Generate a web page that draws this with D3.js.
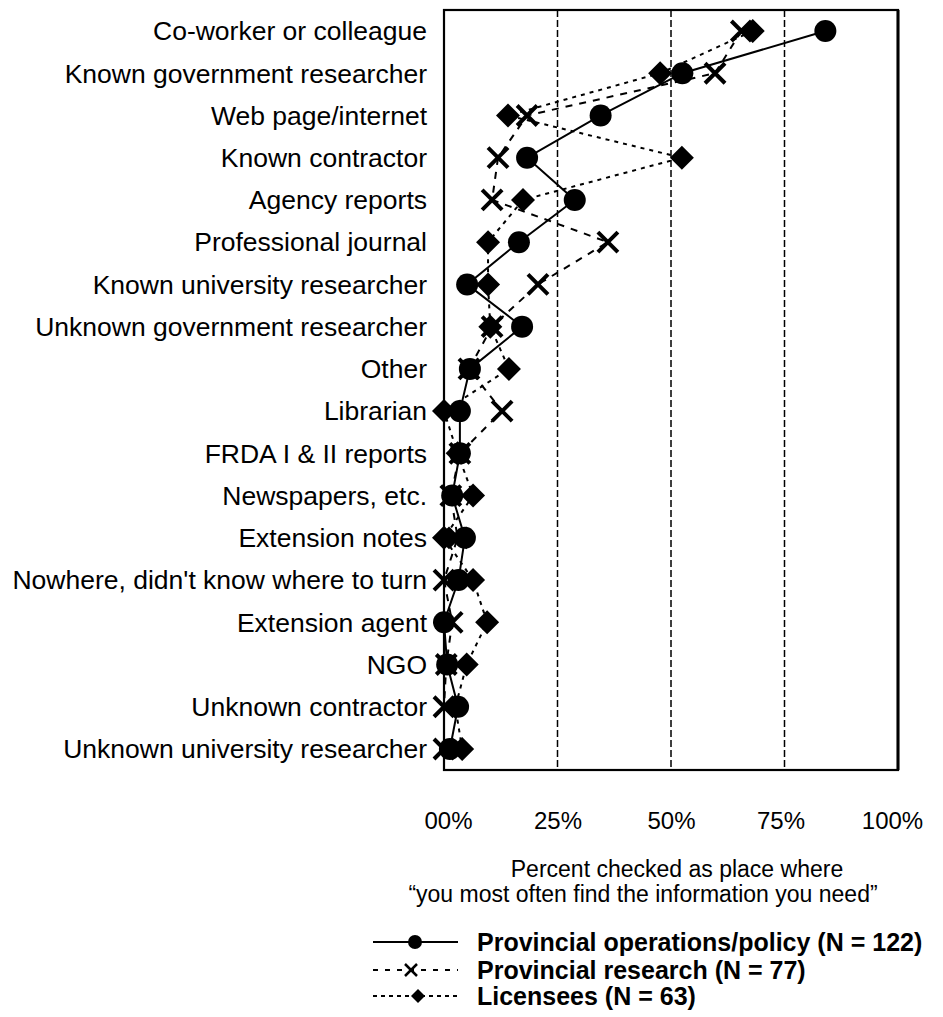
<!DOCTYPE html>
<html>
<head>
<meta charset="utf-8">
<script src="https://cdn.jsdelivr.net/npm/d3@7"></script>
<style>
  html, body { margin: 0; padding: 0; background: #fff; }
  svg { display: block; font-family: "Liberation Sans", Arial, Helvetica, sans-serif; }
</style>
</head>
<body>
<svg id="chart" width="943" height="1017"></svg>
<script>
const categories = [
  "Co-worker or colleague",
  "Known government researcher",
  "Web page/internet",
  "Known contractor",
  "Agency reports",
  "Professional journal",
  "Known university researcher",
  "Unknown government researcher",
  "Other",
  "Librarian",
  "FRDA I & II reports",
  "Newspapers, etc.",
  "Extension notes",
  "Nowhere, didn't know where to turn",
  "Extension agent",
  "NGO",
  "Unknown contractor",
  "Unknown university researcher"
];
const operationsPolicy = [84, 52.5, 34.5, 18.3, 28.8, 16.5, 5.1, 17.2, 5.7, 3.5, 3.5, 1.8, 4.6, 3.2, 0, 0.7, 3.1, 1.3];
const research        = [65.5, 59.7, 18.3, 11.9, 10.6, 36.1, 20.7, 10.6, 5.5, 12.8, 3.5, 1.5, 3, 0, 1.8, 0.5, 0, 0];
const licensees       = [68, 47.6, 14.1, 52.4, 17.4, 9.7, 9.7, 10.2, 14.3, 0, 3, 6.4, 0, 6.4, 9.5, 5, 2.5, 4];
const tickValues = [0, 25, 50, 75, 100];
const tickLabels = ["00%", "25%", "50%", "75%", "100%"];
const seriesNames = [
  "Provincial operations/policy (N = 122)",
  "Provincial research (N = 77)",
  "Licensees (N = 63)"
];
const axisTitle = ["Percent checked as place where", "\u201Cyou most often find the information you need\u201D"];

const svg = d3.select("#chart");
const plot = { left: 444, right: 898, top: 10, bottom: 770 };

const x = d3.scaleLinear().domain([0, 100]).range([plot.left, plot.right]);
const y = d3.scalePoint().domain(categories).range([31, 749]);

// gridlines
svg.append("g").selectAll("line")
  .data([25, 50, 75]).join("line")
  .attr("x1", d => x(d)).attr("x2", d => x(d))
  .attr("y1", plot.top).attr("y2", plot.bottom)
  .attr("stroke", "#000").attr("stroke-width", 1.5)
  .attr("stroke-dasharray", "7,3");

// frame
svg.append("rect")
  .attr("x", plot.left).attr("y", plot.top)
  .attr("width", plot.right - plot.left).attr("height", plot.bottom - plot.top)
  .attr("fill", "none").attr("stroke", "#000").attr("stroke-width", 2.2);
svg.append("line").attr("x1", plot.right).attr("x2", plot.right)
  .attr("y1", plot.top).attr("y2", plot.bottom)
  .attr("stroke", "#000").attr("stroke-width", 3);

// category labels
svg.append("g").selectAll("text")
  .data(categories).join("text")
  .attr("x", 427).attr("y", d => y(d))
  .attr("dy", "0.35em")
  .attr("text-anchor", "end")
  .attr("font-size", 26.5)
  .text(d => d);

// x tick labels
const xAxis = d3.axisBottom(x).tickValues(tickValues)
  .tickFormat((d, i) => tickLabels[i]).tickSize(0).tickPadding(0);
const gx = svg.append("g").attr("transform", `translate(0, 812)`).call(xAxis);
gx.select(".domain").remove();
gx.selectAll("text").attr("font-size", 24).attr("font-family", "Liberation Sans, Arial, sans-serif")
  .attr("fill", "#000").attr("dx", (d, i) => [4, 0, 0, -4, -6][i]);

// axis title
svg.append("text").attr("x", 677).attr("y", 877).attr("text-anchor", "middle")
  .attr("font-size", 23).text(axisTitle[0]);
svg.append("text").attr("x", 643).attr("y", 902).attr("text-anchor", "middle")
  .attr("font-size", 23).text(axisTitle[1]);

const series = [
  { name: seriesNames[0], values: operationsPolicy, dash: null, marker: "circle" },
  { name: seriesNames[1], values: research, dash: "7,7", marker: "x" },
  { name: seriesNames[2], values: licensees, dash: "4,5", marker: "diamond" }
];

const line = d3.line().x(d => x(d.v)).y(d => y(d.c));

function drawMarker(g, type, cx, cy) {
  if (type === "circle") {
    g.append("circle").attr("cx", cx).attr("cy", cy).attr("r", 11).attr("fill", "#000");
  } else if (type === "diamond") {
    g.append("path").attr("d", `M${cx},${cy - 12}L${cx + 12},${cy}L${cx},${cy + 12}L${cx - 12},${cy}Z`)
      .attr("fill", "#000");
  } else {
    const s = 10;
    g.append("path").attr("d", `M${cx - s},${cy - s}L${cx + s},${cy + s}M${cx - s},${cy + s}L${cx + s},${cy - s}`)
      .attr("stroke", "#000").attr("stroke-width", 4).attr("fill", "none");
  }
}

// lines
series.forEach(s => {
  const pts = s.values.map((v, i) => ({ v, c: categories[i] }));
  svg.append("path").datum(pts)
    .attr("d", line).attr("fill", "none").attr("stroke", "#000")
    .attr("stroke-width", 2)
    .attr("stroke-dasharray", s.dash);
});
// markers
[series[2], series[1], series[0]].forEach(s => {
  const g = svg.append("g");
  s.values.forEach((v, i) => drawMarker(g, s.marker, x(v), y(categories[i])));
});

// legend
const legY = [942, 970, 996];
const legDash = [null, "5,7", "4,4"];
series.forEach((s, i) => {
  const g = svg.append("g");
  g.append("line").attr("x1", 373).attr("x2", 458).attr("y1", legY[i]).attr("y2", legY[i])
    .attr("stroke", "#000").attr("stroke-width", 2).attr("stroke-dasharray", legDash[i]);
  const mx = [415, 411, 418][i];
  if (s.marker === "circle") {
    g.append("circle").attr("cx", mx).attr("cy", legY[i]).attr("r", 7).attr("fill", "#000");
  } else if (s.marker === "diamond") {
    g.append("path").attr("d", `M${mx},${legY[i] - 7}L${mx + 7},${legY[i]}L${mx},${legY[i] + 7}L${mx - 7},${legY[i]}Z`).attr("fill", "#000");
  } else {
    const r = 6;
    g.append("path").attr("d", `M${mx - r},${legY[i] - r}L${mx + r},${legY[i] + r}M${mx - r},${legY[i] + r}L${mx + r},${legY[i] - r}`)
      .attr("stroke", "#000").attr("stroke-width", 2.5);
  }
  g.append("text").attr("x", 477).attr("y", legY[i]).attr("dy", "0.35em")
    .attr("font-size", 25).attr("font-weight", "bold").text(s.name);
});
</script>
</body>
</html>
